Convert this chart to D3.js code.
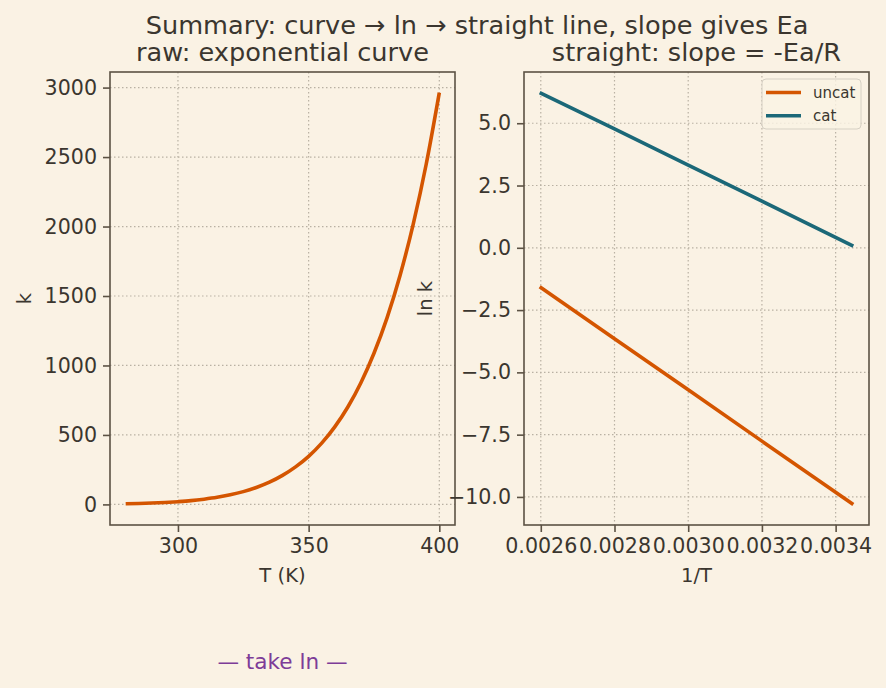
<!DOCTYPE html>
<html>
<head>
<meta charset="utf-8">
<script src="https://cdn.jsdelivr.net/npm/d3@7/dist/d3.min.js"></script>
<style>
  html, body { margin: 0; padding: 0; background: #FAF2E4; }
  svg { display: block; font-family: "DejaVu Sans", sans-serif; }
</style>
</head>
<body>
<div id="chart"></div>
<script>
(function () {
  'use strict';

  // left panel: raw rate constant vs temperature
  var temps = [280, 285, 290, 295, 300, 305, 310, 315, 320, 325, 330, 335, 340,
               345, 350, 355, 360, 365, 370, 375, 380, 385, 390, 395, 400];
  var kVals = [4.7, 6.9, 9.9, 14, 19.7, 27, 37.7, 51, 69, 92, 122, 160, 209,
               270, 346, 441, 558, 701, 876, 1088, 1343, 1650, 2016, 2450, 2964];

  // right panel: ln k vs 1/T (straight lines)
  var invT = [0.002597, 0.0028, 0.0030, 0.0032, 0.003448];
  var lnUncat = [-1.56, -3.65, -5.70, -7.76, -10.30];
  var lnCat = [6.23, 4.77, 3.32, 1.87, 0.07];
  var seriesNames = ["uncat", "cat"];

  // tick labels
  var leftXTicks = [300, 350, 400];
  var leftYTicks = [0, 500, 1000, 1500, 2000, 2500, 3000];
  var rightXTicks = [0.0026, 0.0028, 0.0030, 0.0032, 0.0034];
  var rightYTicks = [-10, -7.5, -5, -2.5, 0, 2.5, 5];

  var width = 886, height = 688;
  var ink = "#3B362F", frame = "#5C5244", gridCol = "#B9B1A3";
  var orange = "#D45500", teal = "#1B6878", purple = "#7D3C98";
  var tickSize = "20.6px", labelSize = "19.6px", titleSize = "25.6px";

  var svg = d3.select("#chart")
    .append("svg")
    .attr("width", width)
    .attr("height", height);

  svg.append("rect").attr("width", width).attr("height", height).attr("fill", "#FAF2E4");

  // pad domain by 5% like matplotlib
  function pad(ext) {
    var m = (ext[1] - ext[0]) * 0.05;
    return [ext[0] - m, ext[1] + m];
  }

  function minus(s) { return s.replace(/-/g, "\u2212"); }

  function panel(box, xDom, yDom, xTicks, yTicks, xFmt, yFmt, xLabel, yLabel, yLabelX, title) {
    var x = d3.scaleLinear().domain(xDom).range([box.x0, box.x1]);
    var y = d3.scaleLinear().domain(yDom).range([box.y1, box.y0]);
    var g = svg.append("g");

    // grid
    g.selectAll("line.gx").data(xTicks).enter().append("line")
      .attr("x1", function(d){ return x(d); }).attr("x2", function(d){ return x(d); })
      .attr("y1", box.y0).attr("y2", box.y1)
      .attr("stroke", gridCol).attr("stroke-width", 1.2).attr("stroke-dasharray", "1.5,2.5");
    g.selectAll("line.gy").data(yTicks).enter().append("line")
      .attr("y1", function(d){ return y(d); }).attr("y2", function(d){ return y(d); })
      .attr("x1", box.x0).attr("x2", box.x1)
      .attr("stroke", gridCol).attr("stroke-width", 1.2).attr("stroke-dasharray", "1.5,2.5");

    // axes
    var xAxis = d3.axisBottom(x).tickValues(xTicks).tickFormat(xFmt).tickSize(7).tickPadding(6);
    var yAxis = d3.axisLeft(y).tickValues(yTicks).tickFormat(yFmt).tickSize(7).tickPadding(6);
    var ax = g.append("g").attr("transform", "translate(0," + box.y1 + ")").call(xAxis);
    var ay = g.append("g").attr("transform", "translate(" + box.x0 + ",0)").call(yAxis);
    [ax, ay].forEach(function(a){
      a.select(".domain").remove();
      a.selectAll(".tick line").attr("stroke", frame).attr("stroke-width", 1.6);
      a.selectAll(".tick text").attr("fill", ink).attr("font-size", tickSize)
        .attr("font-family", "DejaVu Sans");
    });

    // frame
    g.append("rect")
      .attr("x", box.x0).attr("y", box.y0)
      .attr("width", box.x1 - box.x0).attr("height", box.y1 - box.y0)
      .attr("fill", "none").attr("stroke", frame).attr("stroke-width", 1.6);

    // labels
    g.append("text").attr("x", (box.x0 + box.x1) / 2).attr("y", 582)
      .attr("text-anchor", "middle").attr("fill", ink).attr("font-size", labelSize).text(xLabel);
    g.append("text").attr("transform", "translate(" + yLabelX + "," + ((box.y0 + box.y1) / 2) + ") rotate(-90)")
      .attr("text-anchor", "middle").attr("fill", ink).attr("font-size", labelSize).text(yLabel);
    g.append("text").attr("x", (box.x0 + box.x1) / 2).attr("y", 61)
      .attr("text-anchor", "middle").attr("fill", ink).attr("font-size", titleSize).text(title);

    return { x: x, y: y, g: g };
  }

  var line = function(sx, sy, xs, curve) {
    return d3.line()
      .x(function(d, i){ return sx(xs[i]); })
      .y(function(d){ return sy(d); })
      .curve(curve || d3.curveLinear);
  };

  // ---- left: exponential curve
  var L = panel({ x0: 110, x1: 455, y0: 72, y1: 525 },
    pad(d3.extent(temps)), pad([0, d3.max(kVals)]),
    leftXTicks, leftYTicks, d3.format("d"), d3.format("d"),
    "T (K)", "k", 31, "raw: exponential curve");

  L.g.append("path").datum(kVals)
    .attr("d", line(L.x, L.y, temps, d3.curveMonotoneX))
    .attr("fill", "none").attr("stroke", orange).attr("stroke-width", 3.6);

  // ---- right: straight lines
  var R = panel({ x0: 524, x1: 869, y0: 72, y1: 525 },
    pad(d3.extent(invT)), pad(d3.extent(lnUncat.concat(lnCat))),
    rightXTicks, rightYTicks, d3.format(".4f"), function(d){ return minus(d3.format(".1f")(d)); },
    "1/T", "ln k", 432, "straight: slope = -Ea/R");

  var colors = [orange, teal];
  [lnUncat, lnCat].forEach(function(vals, i){
    R.g.append("path").datum(vals)
      .attr("d", line(R.x, R.y, invT))
      .attr("fill", "none").attr("stroke", colors[i]).attr("stroke-width", 3.6);
  });

  // legend
  var leg = R.g.append("g");
  leg.append("rect").attr("x", 762).attr("y", 79).attr("width", 99).attr("height", 50)
    .attr("rx", 4).attr("fill", "#FAF2E4").attr("fill-opacity", 0.8)
    .attr("stroke", "#D6D0C4").attr("stroke-width", 1);
  seriesNames.forEach(function(name, i){
    var yy = 92.5 + i * 23.3;
    leg.append("line").attr("x1", 766).attr("x2", 801).attr("y1", yy).attr("y2", yy)
      .attr("stroke", colors[i]).attr("stroke-width", 3.6);
    leg.append("text").attr("x", 813).attr("y", yy + 5.3)
      .attr("fill", ink).attr("font-size", "15px").text(name);
  });

  // figure title and note
  svg.append("text").attr("x", 477).attr("y", 34).attr("text-anchor", "middle")
    .attr("fill", ink).attr("font-size", titleSize)
    .text("Summary: curve \u2192 ln \u2192 straight line, slope gives Ea");
  svg.append("text").attr("x", 282.5).attr("y", 669).attr("text-anchor", "middle")
    .attr("fill", purple).attr("font-size", "21.6px").text("\u2014 take ln \u2014");
}());
</script>
</body>
</html>
